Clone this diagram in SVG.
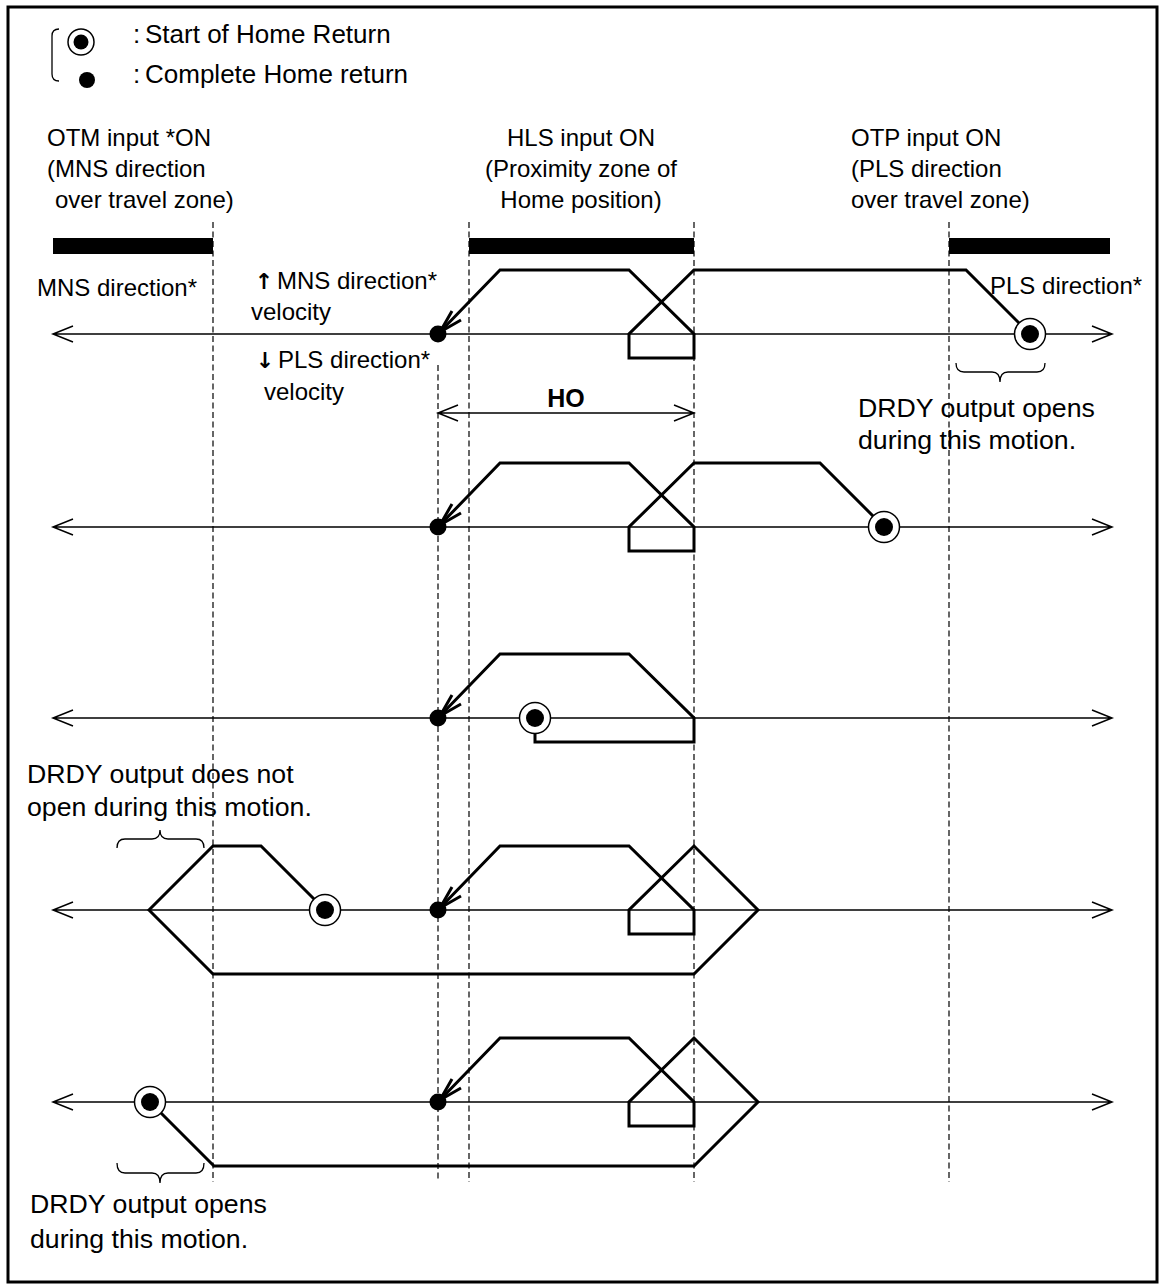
<svg xmlns="http://www.w3.org/2000/svg" width="1162" height="1288" viewBox="0 0 1162 1288">
<style>
text{font-family:"Liberation Sans",Arial,sans-serif;font-size:24px;fill:#000}
.b{font-weight:bold}
.lg{font-size:26px}
.big{font-size:26.7px}
.arr{font-family:"DejaVu Sans",sans-serif;font-weight:bold;font-size:22px}
.axis{stroke:#000;stroke-width:1.5;fill:none}
.traj{stroke:#000;stroke-width:3;fill:none;stroke-linejoin:miter}
.dash{stroke:#000;stroke-width:1.2;stroke-dasharray:6 3.5;fill:none}
.thin{stroke:#000;stroke-width:1.3;fill:none}
.bar{fill:#000}
</style>
<defs>
<g id="start"><circle r="15.5" fill="#fff" stroke="#000" stroke-width="1.5"/><circle r="9" fill="#000"/></g>
<g id="done"><circle r="8.5" fill="#000"/><path d="M2,-2 L14,-23 M2,-2 L23,-14" stroke="#000" stroke-width="3" fill="none"/></g>
</defs>
<rect x="8" y="7" width="1149" height="1275" fill="#fff" stroke="#000" stroke-width="3"/>
<g id="legend">
<path class="thin" d="M59,29 Q52,29 52,36 L52,74 Q52,81 59,81"/>
<circle cx="81" cy="42" r="13" fill="#fff" stroke="#000" stroke-width="1.5"/>
<circle cx="81" cy="42" r="7.5" fill="#000"/>
<circle cx="87" cy="80" r="8" fill="#000"/>
<text class="lg" x="133" y="43">:</text>
<text class="lg" x="145" y="43">Start of Home Return</text>
<text class="lg" x="133" y="83">:</text>
<text class="lg" x="145" y="83">Complete Home return</text>
</g>
<g id="zone-labels">
<text x="47" y="146">OTM input *ON</text>
<text x="47" y="177">(MNS direction</text>
<text x="55" y="208">over travel zone)</text>
<text x="581" y="146" text-anchor="middle">HLS input ON</text>
<text x="581" y="177" text-anchor="middle">(Proximity zone of</text>
<text x="581" y="208" text-anchor="middle">Home position)</text>
<text x="851" y="146">OTP input ON</text>
<text x="851" y="177">(PLS direction</text>
<text x="851" y="208">over travel zone)</text>
</g>
<g id="bars">
<rect class="bar" x="53" y="238" width="160" height="16"/>
<rect class="bar" x="469" y="238" width="225" height="16"/>
<rect class="bar" x="949" y="238" width="161" height="16"/>
</g>
<g id="guides">
<line class="dash" x1="213" y1="222" x2="213" y2="1182"/>
<line class="dash" x1="438" y1="365" x2="438" y2="1182"/>
<line class="dash" x1="469" y1="222" x2="469" y2="1182"/>
<line class="dash" x1="694" y1="222" x2="694" y2="1182"/>
<line class="dash" x1="949" y1="222" x2="949" y2="1182"/>
</g>
<g id="axes">
<path class="axis" d="M53,334 H1112 M73,326 L53,334 L73,342 M1092,326 L1112,334 L1092,342"/>
<path class="axis" d="M53,527 H1112 M73,519 L53,527 L73,535 M1092,519 L1112,527 L1092,535"/>
<path class="axis" d="M53,718 H1112 M73,710 L53,718 L73,726 M1092,710 L1112,718 L1092,726"/>
<path class="axis" d="M53,910 H1112 M73,902 L53,910 L73,918 M1092,902 L1112,910 L1092,918"/>
<path class="axis" d="M53,1102 H1112 M73,1094 L53,1102 L73,1110 M1092,1094 L1112,1102 L1092,1110"/>
</g>
<g id="ho">
<path class="axis" d="M438,413 H694 M458,405 L438,413 L458,421 M674,405 L694,413 L674,421"/>
<text class="b" x="566" y="407" text-anchor="middle" style="font-size:25px">HO</text>
</g>
<g id="labels">
<text x="37" y="296">MNS direction*</text>
<text class="arr" x="264" y="289" text-anchor="middle">↑</text>
<text x="277" y="289">MNS direction*</text>
<text x="251" y="320">velocity</text>
<text class="arr" x="265" y="368" text-anchor="middle">↓</text>
<text x="278" y="368">PLS direction*</text>
<text x="264" y="400">velocity</text>
<text x="990" y="294">PLS direction*</text>
<text class="big" x="858" y="417">DRDY output opens</text>
<text class="big" x="858" y="449">during this motion.</text>
<text class="big" x="27" y="783">DRDY output does not</text>
<text class="big" x="27" y="816">open during this motion.</text>
<text class="big" x="30" y="1213">DRDY output opens</text>
<text class="big" x="30" y="1248">during this motion.</text>
</g>
<g id="braces">
<path class="thin" d="M956,363 Q956,372 964,372 H992 Q1000,372 1000,382 Q1000,372 1008,372 H1037 Q1045,372 1045,363"/>
<path class="thin" d="M117,848 Q117,839 125,839 H152 Q160,839 160,830 Q160,839 168,839 H196 Q204,839 204,848"/>
<path class="thin" d="M117,1163 Q117,1173 125,1173 H152 Q160,1173 160,1183 Q160,1173 168,1173 H196 Q204,1173 204,1163"/>
</g>
<g id="connectors">
<path class="traj" d="M1030,334 L966,270 H694 L629,334 V358 H694 V334 L629,270 H500 L438,334"/>
<path class="traj" d="M884,527 L820,463 H694 L629,527 V551 H694 V527 L629,463 H500 L438,527"/>
<path class="traj" d="M535,718 V742 H694 V718 L629,654 H500 L438,718"/>
<path class="traj" d="M325,910 L261,846 H213 L149,910 L213,974 H694 L758,910 L694,846 L629,910 V934 H694 V910 L629,846 H500 L438,910"/>
<path class="traj" d="M150,1102 L214,1166 H694 L758,1102 L694,1038 L629,1102 V1126 H694 V1102 L629,1038 H500 L438,1102"/>
</g>
<g id="node-row1"><use href="#start" x="1030" y="334"/><use href="#done" x="438" y="334"/></g>
<g id="node-row2"><use href="#start" x="884" y="527"/><use href="#done" x="438" y="527"/></g>
<g id="node-row3"><use href="#start" x="535" y="718"/><use href="#done" x="438" y="718"/></g>
<g id="node-row4"><use href="#start" x="325" y="910"/><use href="#done" x="438" y="910"/></g>
<g id="node-row5"><use href="#start" x="150" y="1102"/><use href="#done" x="438" y="1102"/></g>
</svg>
